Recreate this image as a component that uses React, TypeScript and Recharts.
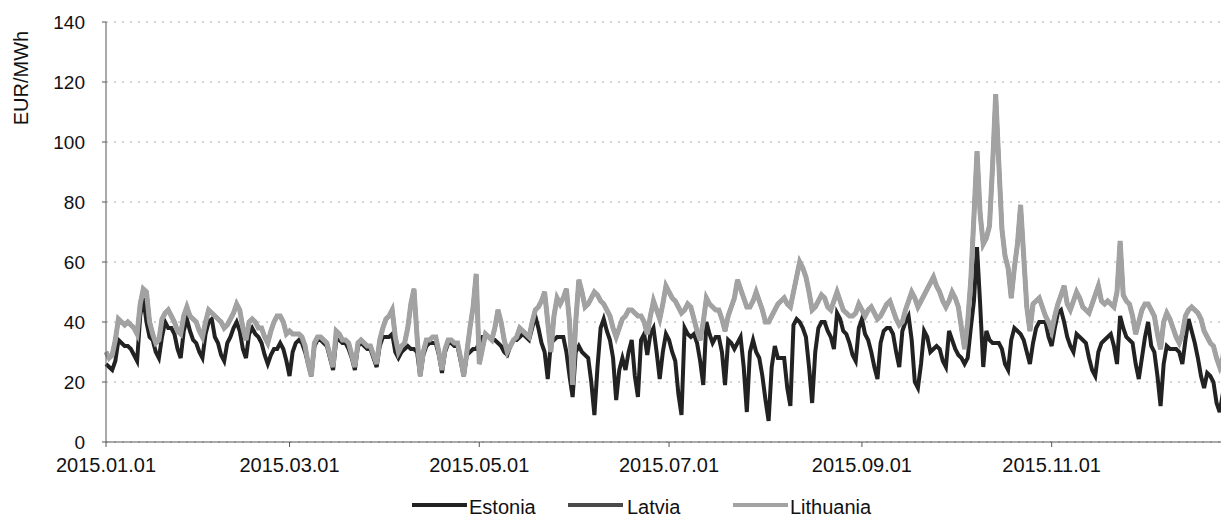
import React from 'react';
import { LineChart, Line, XAxis, YAxis, CartesianGrid, Legend, Label } from 'recharts';

// Daily prices, 2015-01-01 (index 0) to 2015-12-28 (index 361), EUR/MWh
const estonia = [
  26, 25, 24, 27, 34, 33, 32,
  32, 31, 29, 27, 42, 48, 40,
  35, 34, 30, 28, 35, 40, 38,
  38, 36, 31, 28, 37, 41, 37,
  34, 33, 30, 28, 36, 40, 41,
  35, 33, 29, 27, 33, 35, 38,
  40, 37, 31, 28, 36, 38, 36,
  35, 33, 29, 26, 29, 31, 31,
  33, 31, 27, 22, 30, 33, 34,
  33, 30, 26, 22, 32, 34, 34,
  33, 32, 28, 24, 34, 34, 33,
  33, 31, 28, 24, 32, 33, 32,
  31, 31, 28, 25, 32, 35, 35,
  35, 36, 30, 28, 30, 31, 32,
  31, 31, 30, 22, 29, 32, 33,
  33, 33, 29, 23, 30, 33, 33,
  32, 32, 27, 22, 29, 30, 31,
  31, 33, 35, 35, 35, 34, 34,
  33, 32, 30, 29, 32, 34, 34,
  35, 36, 35, 34, 38, 42, 38,
  33, 30, 21, 33, 34, 35, 35,
  35, 30, 22, 15, 30, 32, 30,
  29, 28, 20, 9, 25, 38, 41,
  37, 34, 28, 14, 24, 28, 24,
  30, 34, 22, 15, 34, 36, 29,
  36, 38, 30, 21, 30, 36, 34,
  30, 27, 16, 9, 38, 36, 35,
  36, 33, 27, 19, 40, 36, 33,
  35, 35, 30, 19, 34, 33, 31,
  33, 35, 25, 10, 30, 34, 30,
  28, 22, 14, 7, 25, 32, 28,
  28, 28, 18, 12, 39, 41, 40,
  38, 35, 25, 13, 30, 38, 40,
  40, 37, 35, 31, 43, 41, 37,
  36, 33, 29, 27, 38, 41, 36,
  34, 30, 25, 21, 33, 37, 38,
  38, 36, 30, 25, 37, 40, 42,
  34, 20, 18, 26, 37, 35, 30,
  31, 32, 31, 27, 25, 37, 34,
  31, 29, 28, 26, 28, 38, 47,
  65, 46, 25, 37, 34, 33, 33,
  33, 31, 26, 24, 34, 38, 37,
  36, 34, 30, 26, 33, 38, 40,
  40, 40, 35, 32, 38, 43, 44,
  40, 35, 32, 30, 36, 35, 34,
  33, 28, 24, 22, 30, 33, 34,
  35, 36, 32, 26, 42, 38, 35,
  34, 33, 26, 21, 28, 35, 40,
  32, 30, 22, 12, 26, 32, 31,
  31, 31, 30, 26, 34, 41, 37,
  33, 28, 22, 18, 23, 22, 20,
  13, 10, 16, 25, 29,
];

const latvia = [
  30, 28, 29, 34, 41, 40, 39,
  40, 39, 38, 36, 46, 51, 50,
  40, 36, 33, 34, 41, 43, 44,
  42, 40, 37, 36, 42, 45, 42,
  41, 40, 37, 35, 40, 44, 43,
  42, 41, 40, 38, 39, 41, 43,
  46, 44, 38, 34, 40, 41, 40,
  38, 38, 35, 33, 37, 40, 42,
  42, 40, 36, 37, 36, 36, 36,
  35, 32, 26, 22, 33, 35, 35,
  34, 33, 29, 25, 37, 36, 34,
  34, 33, 29, 25, 33, 34, 33,
  32, 32, 29, 26, 34, 38, 41,
  42, 44, 35, 30, 32, 33, 38,
  46, 51, 35, 22, 30, 34, 34,
  35, 35, 30, 24, 31, 34, 34,
  33, 33, 28, 22, 30, 38, 45,
  56, 26, 31, 36, 35, 34, 38,
  44, 40, 34, 30, 32, 34, 35,
  38, 37, 36, 35, 40, 44, 45,
  47, 50, 40, 30, 42, 48, 46,
  48, 51, 40, 19, 40, 54, 50,
  45, 46, 48, 50, 49, 47, 46,
  44, 42, 38, 35, 38, 41, 42,
  44, 44, 43, 42, 42, 40, 36,
  42, 47, 44, 41, 46, 52, 50,
  48, 47, 45, 43, 44, 46, 45,
  41, 37, 34, 40, 48, 46, 45,
  44, 44, 41, 37, 42, 45, 48,
  54, 51, 48, 45, 45, 47, 50,
  47, 44, 40, 40, 42, 44, 46,
  47, 48, 46, 45, 50, 55, 60,
  58, 55, 50, 44, 45, 47, 49,
  48, 45, 44, 47, 50, 47, 44,
  43, 42, 42, 43, 46, 44, 42,
  44, 45, 43, 41, 42, 44, 46,
  47, 44, 41, 39, 40, 44, 47,
  50, 48, 45, 47, 49, 51, 53,
  55, 52, 50, 47, 45, 47, 50,
  48, 45, 38, 31, 40, 54, 75,
  97, 76, 66, 68, 72, 92, 116,
  93, 71, 62, 58, 48, 58, 66,
  79, 62, 45, 37, 46, 47, 48,
  45, 42, 40, 37, 42, 46, 49,
  52, 46, 44, 47, 50, 48, 45,
  44, 43, 46, 49, 52, 47, 46,
  47, 46, 45, 50, 67, 49, 47,
  46, 42, 36, 40, 44, 46, 46,
  44, 42, 36, 31, 40, 43, 41,
  38, 35, 33, 36, 42, 44, 45,
  44, 43, 41, 37, 35, 33, 32,
  28, 25, 28, 36, 41,
];

const lithuania = [
  30, 28, 29, 34, 41, 40, 39,
  40, 39, 38, 36, 46, 51, 50,
  40, 36, 33, 34, 41, 43, 44,
  42, 40, 37, 36, 42, 45, 42,
  41, 40, 37, 35, 40, 44, 43,
  42, 41, 40, 38, 39, 41, 43,
  46, 44, 38, 34, 40, 41, 40,
  38, 38, 35, 33, 37, 40, 42,
  42, 40, 36, 37, 36, 36, 36,
  35, 32, 26, 22, 33, 35, 35,
  34, 33, 29, 25, 37, 36, 34,
  34, 33, 29, 25, 33, 34, 33,
  32, 32, 29, 26, 34, 38, 41,
  42, 44, 35, 30, 32, 33, 38,
  46, 51, 35, 22, 30, 34, 34,
  35, 35, 30, 24, 31, 34, 34,
  33, 33, 28, 22, 30, 38, 45,
  56, 26, 31, 36, 35, 34, 38,
  44, 40, 34, 30, 32, 34, 35,
  38, 37, 36, 35, 40, 44, 45,
  47, 50, 40, 30, 42, 48, 46,
  48, 51, 40, 19, 40, 54, 50,
  45, 46, 48, 50, 49, 47, 46,
  44, 42, 38, 35, 38, 41, 42,
  44, 44, 43, 42, 42, 40, 36,
  42, 47, 44, 41, 46, 52, 50,
  48, 47, 45, 43, 44, 46, 45,
  41, 37, 34, 40, 48, 46, 45,
  44, 44, 41, 37, 42, 45, 48,
  54, 51, 48, 45, 45, 47, 50,
  47, 44, 40, 40, 42, 44, 46,
  47, 48, 46, 45, 50, 55, 60,
  58, 55, 50, 44, 45, 47, 49,
  48, 45, 44, 47, 50, 47, 44,
  43, 42, 42, 43, 46, 44, 42,
  44, 45, 43, 41, 42, 44, 46,
  47, 44, 41, 39, 40, 44, 47,
  50, 48, 45, 47, 49, 51, 53,
  55, 52, 50, 47, 45, 47, 50,
  48, 45, 38, 31, 40, 54, 75,
  97, 76, 66, 68, 72, 92, 116,
  93, 71, 62, 58, 48, 58, 66,
  79, 62, 45, 37, 46, 47, 48,
  45, 42, 40, 37, 42, 46, 49,
  52, 46, 44, 47, 50, 48, 45,
  44, 43, 46, 49, 52, 47, 46,
  47, 46, 45, 50, 67, 49, 47,
  46, 42, 36, 40, 44, 46, 46,
  44, 42, 36, 31, 40, 43, 41,
  38, 35, 33, 36, 42, 44, 45,
  44, 43, 41, 37, 35, 33, 32,
  28, 25, 28, 36, 41,
];

const tickDays = [0, 59, 120, 181, 243, 304];
const tickLabels = ['2015.01.01', '2015.03.01', '2015.05.01', '2015.07.01', '2015.09.01', '2015.11.01'];
const yTicks = [0, 20, 40, 60, 80, 100, 120, 140];
const seriesNames = ['Estonia', 'Latvia', 'Lithuania'];
const yTitle = 'EUR/MWh';

const data = estonia.map((v, i) => ({
  day: i,
  Estonia: v,
  Latvia: latvia[i],
  Lithuania: lithuania[i],
}));

const FONT = '"Liberation Sans", Arial, Helvetica, sans-serif';
const COLORS: Record<string, string> = { Estonia: '#222222', Latvia: '#4a4a4a', Lithuania: '#a2a2a2' };
const WIDTHS: Record<string, number> = { Estonia: 4, Latvia: 4, Lithuania: 5 };
const LEGEND_POS: Record<string, { line: number; text: number }> = {
  Estonia: { line: 404, text: 461 },
  Latvia: { line: 560, text: 619 },
  Lithuania: { line: 725, text: 782 },
};

const renderLegend = () => (
  <div style={{ position: 'relative', width: 1221, height: 41 }}>
    {seriesNames.map((n) => (
      <React.Fragment key={n}>
        <div
          style={{
            position: 'absolute',
            left: LEGEND_POS[n].line,
            top: 21,
            width: 55,
            height: 4,
            background: COLORS[n],
          }}
        />
        <div
          style={{
            position: 'absolute',
            left: LEGEND_POS[n].text,
            top: 13,
            fontFamily: FONT,
            fontSize: 20,
            lineHeight: '24px',
            color: '#111',
            whiteSpace: 'nowrap',
          }}
        >
          {n}
        </div>
      </React.Fragment>
    ))}
  </div>
);

export default function App() {
  return (
    <LineChart
      width={1221}
      height={515}
      data={data}
      margin={{ top: 14, right: 0, bottom: 0, left: 0 }}
      style={{ fontFamily: FONT }}
    >
      <CartesianGrid vertical={false} stroke="#a8a8a8" strokeDasharray="2 6" />
      <XAxis
        dataKey="day"
        type="number"
        domain={[0, 361]}
        ticks={tickDays}
        interval={0}
        tickFormatter={(v: number) => tickLabels[tickDays.indexOf(v)]}
        height={40}
        tickSize={5}
        tickMargin={11}
        stroke="#555"
        tick={{ fontSize: 20, fill: '#111', fontFamily: FONT }}
      />
      <YAxis
        domain={[0, 140]}
        ticks={yTicks}
        interval={0}
        width={98}
        tickSize={4}
        tickMargin={17}
        stroke="#555"
        tick={{ fontSize: 19, fill: '#111', fontFamily: FONT }}
      >
        <Label
          content={() => (
            <text
              x={13}
              y={70}
              transform="rotate(-90 13 70)"
              textAnchor="middle"
              dominantBaseline="central"
              fontSize={20}
              fontFamily={FONT}
              fill="#111"
            >
              {yTitle}
            </text>
          )}
        />
      </YAxis>
      <Legend verticalAlign="bottom" content={renderLegend} />
      {seriesNames.map((n) => (
        <Line
          key={n}
          dataKey={n}
          type="linear"
          stroke={COLORS[n]}
          strokeWidth={WIDTHS[n]}
          dot={false}
          activeDot={false}
          isAnimationActive={false}
        />
      ))}
    </LineChart>
  );
}
